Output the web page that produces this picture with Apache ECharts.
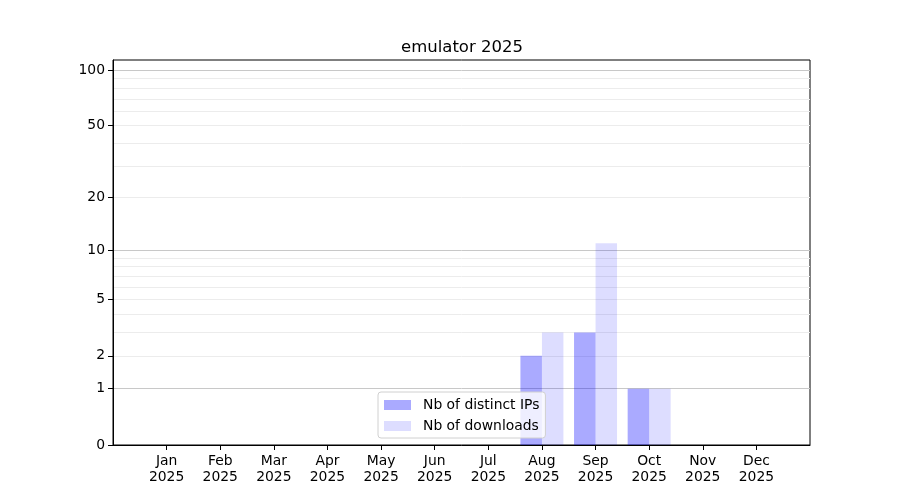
<!DOCTYPE html>
<html>
<head>
<meta charset="utf-8">
<script src="https://cdn.jsdelivr.net/npm/echarts@6/dist/echarts.min.js"></script>
<style>
  html, body { margin: 0; padding: 0; background: #fff; }
  #chart { width: 900px; height: 500px; }
</style>
</head>
<body>
<div id="chart"></div>
<script>
// data
var months = ['Jan', 'Feb', 'Mar', 'Apr', 'May', 'Jun', 'Jul', 'Aug', 'Sep', 'Oct', 'Nov', 'Dec'];
var ips = [0, 0, 0, 0, 0, 0, 0, 2, 3, 1, 0, 0];
var downloads = [0, 0, 0, 0, 0, 0, 0, 3, 11, 1, 0, 0];
var yTicks = [0, 1, 2, 5, 10, 20, 50, 100];
var majorGrid = [1, 10, 100];
var minorGrid = [2, 3, 4, 5, 6, 7, 8, 9, 20, 30, 40, 50, 60, 70, 80, 90];
var yTop = 113.5;

// the y axis is log10(1 + x)
function t(v) { return Math.log10(1 + v); }
function back(v) { return Math.round(Math.pow(10, v) - 1); }

var chart = echarts.init(document.getElementById('chart'));
var font = 'DejaVu Sans';
var idx = months.map(function (m, i) { return i; });

function gridAxis(values, color) {
  return {
    type: 'value', min: 0, max: t(yTop), position: 'right',
    axisLine: { show: false, onZero: false },
    axisTick: { show: false, customValues: values.map(t) },
    axisLabel: { show: false, customValues: values.map(t) },
    splitLine: { show: true, lineStyle: { color: color, width: 1 } }
  };
}

var option = {
  backgroundColor: '#fff',
  animation: false,
  title: {
    text: 'emulator 2025',
    left: 457, top: 34, textAlign: 'center',
    textStyle: { fontFamily: font, fontSize: 16.5, fontWeight: 'normal', color: '#000' }
  },
  grid: {
    left: 113, right: 90, top: 60, bottom: 55,
    show: true, borderColor: '#000', borderWidth: 1, backgroundColor: 'transparent'
  },
  legend: {
    orient: 'vertical',
    left: 378, top: 392,
    itemWidth: 27, itemHeight: 10, itemGap: 7,
    icon: 'rect',
    padding: [6, 6, 5, 6],
    backgroundColor: 'rgba(255,255,255,0.8)',
    borderColor: '#d0d0d0', borderWidth: 1, borderRadius: 3,
    textStyle: { fontFamily: font, fontSize: 13.9, color: '#000', padding: [0, 0, 0, 7] },
    data: ['Nb of distinct IPs', 'Nb of downloads']
  },
  xAxis: {
    type: 'value', min: -1, max: 12,
    axisLine: { onZero: false, lineStyle: { color: '#000' } },
    axisTick: { inside: false, length: 5, customValues: idx, lineStyle: { color: '#000' } },
    axisLabel: {
      customValues: idx, margin: 8,
      fontFamily: font, fontSize: 13.9, color: '#000', lineHeight: 16,
      formatter: function (v) { return months[v] + '\n2025'; }
    },
    splitLine: { show: false }
  },
  yAxis: [
    {
      type: 'value', min: 0, max: t(yTop), position: 'left',
      axisLine: { show: true, onZero: false, lineStyle: { color: '#000' } },
      axisTick: { show: true, inside: false, length: 5, customValues: yTicks.map(t), lineStyle: { color: '#000' } },
      axisLabel: {
        customValues: yTicks.map(t), margin: 8,
        fontFamily: font, fontSize: 13.9, color: '#000',
        formatter: function (v) { return String(back(v)); }
      },
      splitLine: { show: false }
    },
    gridAxis(minorGrid, '#ececec'),
    gridAxis(majorGrid, '#c8c8c8')
  ],
  series: [
    {
      name: 'Nb of distinct IPs', type: 'bar',
      barWidth: 21.5, barGap: '0%',
      itemStyle: { color: 'rgba(0,0,255,0.333)' },
      data: ips.map(function (v, i) { return [i, t(v)]; })
    },
    {
      name: 'Nb of downloads', type: 'bar',
      barWidth: 21.5, barGap: '0%',
      itemStyle: { color: 'rgba(0,0,255,0.133)' },
      data: downloads.map(function (v, i) { return [i, t(v)]; })
    }
  ]
};

chart.setOption(option);
</script>
</body>
</html>
